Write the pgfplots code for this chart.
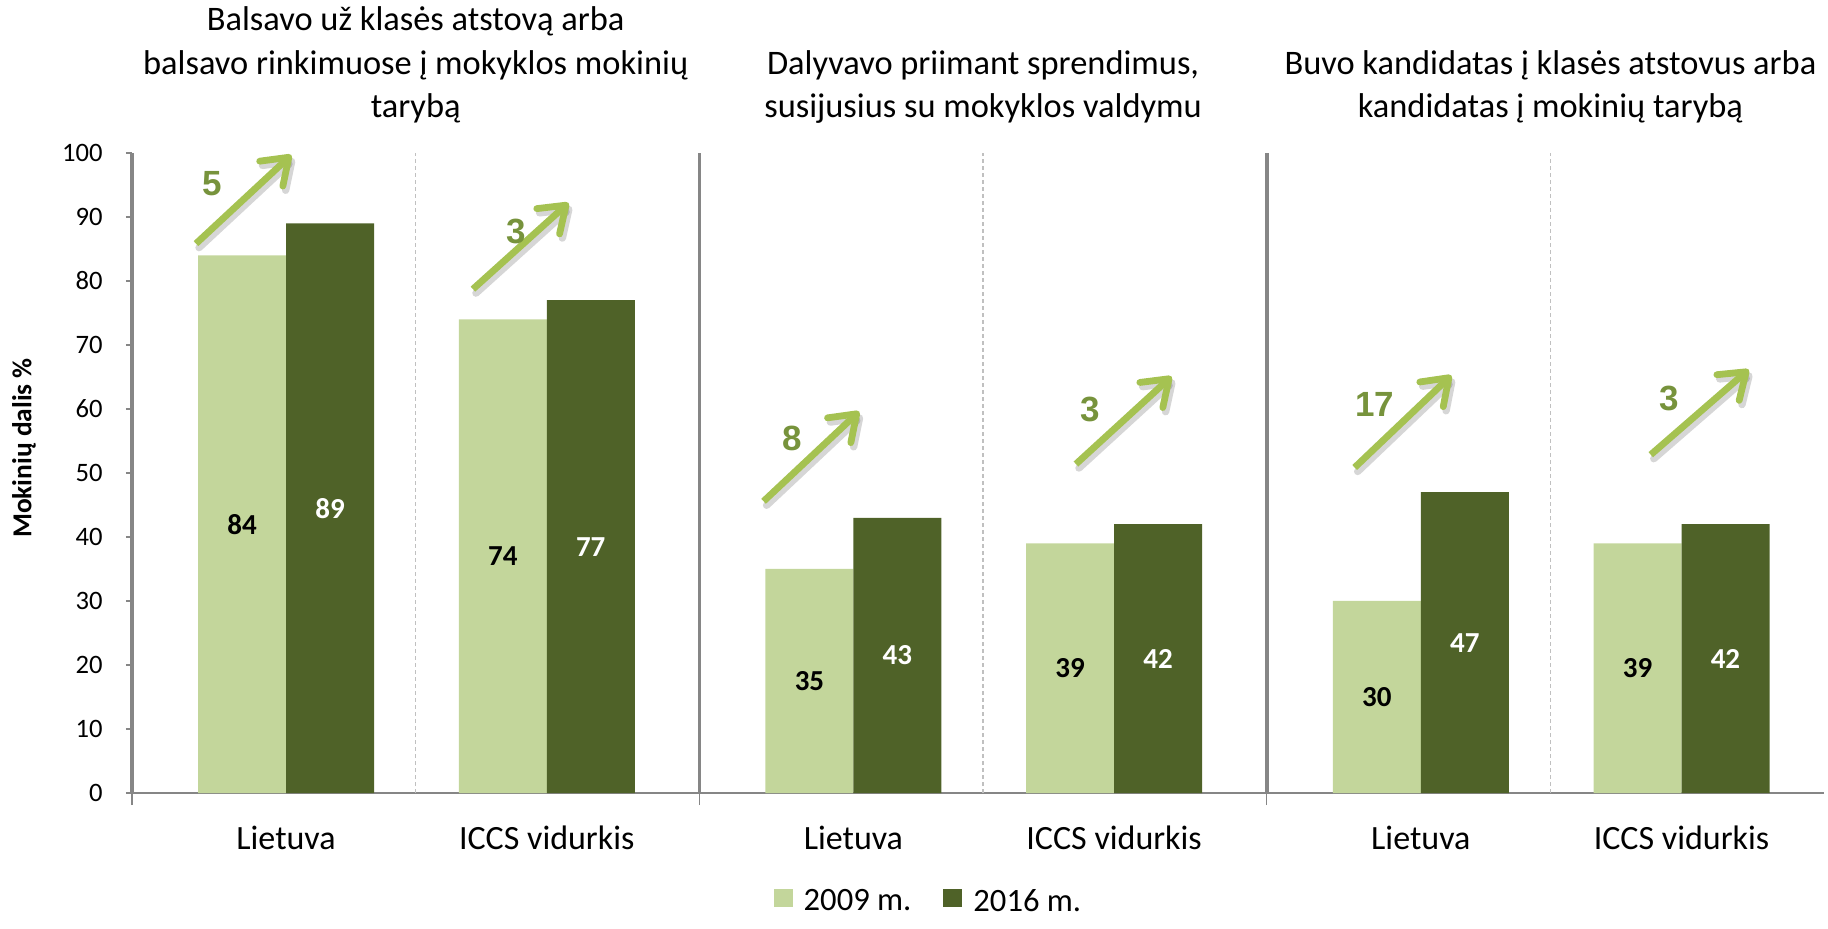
\documentclass[border=0pt]{standalone}
\usepackage{fontspec}
\setmainfont{Carlito}
\newfontfamily\arialfont{Liberation Sans}
\usepackage{pgfplots}
\usepackage{pgfplotstable}
\pgfplotsset{compat=1.18}
\usetikzlibrary{arrows.meta}

\definecolor{light}{HTML}{C3D69B}
\definecolor{dark}{HTML}{4F6228}
\definecolor{arrowgreen}{HTML}{A5C251}
\definecolor{numgreen}{HTML}{77933C}
\definecolor{axisgray}{HTML}{868686}
\definecolor{dashgray}{HTML}{C0C0C0}

\tikzset{
  shadowarrow/.style={black, opacity=0.16, line width=3.7pt, line cap=round, xshift=1.5pt, yshift=-2pt, -{Straight Barb[length=12pt, width=17pt, round]}},
  greenarrow/.style={arrowgreen, line width=3.4pt, -{Straight Barb[length=12pt, width=17pt, round]}},
  chg/.style={font=\arialfont\bfseries\fontsize{17.5}{20}\selectfont, text=numgreen},
  ttl/.style={anchor=base, font=\fontsize{17.2}{21}\selectfont},
}

\pgfplotstableread{
x     a   b
0.543 84  89
1.462 74  77
2.543 35  43
3.462 39  42
4.543 30  47
5.462 39  42
}\data

\begin{document}
\begin{tikzpicture}
\begin{axis}[
  at={(66pt,67.5pt)}, anchor=south west,
  scale only axis, width=846.1pt, height=320pt,
  xmin=0, xmax=5.965, ymin=0, ymax=100,
  clip=false,
  axis x line*=bottom, axis y line*=left,
  x axis line style={draw=axisgray, line width=1pt},
  y axis line style={draw=axisgray, line width=1.8pt},
  /pgf/number format/assume math mode=true,
  ytick={0,10,...,100},
  ytick style={draw=axisgray, line width=0.6pt},
  tick align=outside,
  major tick length=3pt,
  yticklabel style={font=\fontsize{13.3}{16}\selectfont, anchor=east, inner sep=0pt, xshift=-11.5pt},
  xtick={0.543,1.462,2.543,3.462,4.543,5.462},
  xticklabels={Lietuva, ICCS vidurkis, Lietuva, ICCS vidurkis, Lietuva, ICCS vidurkis},
  xtick style={draw=none},
  xticklabel style={font=\fontsize{17}{20}\selectfont, anchor=base, yshift=-25pt},
  extra x ticks={0,2,4},
  extra x tick labels={},
  extra x tick style={xtick style={draw=axisgray, line width=0.6pt}, major tick length=6pt},
  legend style={at={(axis cs:2.811,-17.0)}, anchor=center, draw=none, fill=none,
    legend columns=2, font=\fontsize{16.3}{18}\selectfont,
    /tikz/every odd column/.append style={column sep=3.5pt},
    /tikz/every even column/.append style={column sep=14pt}},
]
% separators
\draw[dashgray, line width=0.6pt, dash pattern=on 2pt off 1.5pt] (axis cs:1,0) -- (axis cs:1,100);
\draw[dashgray, line width=0.6pt, dash pattern=on 2pt off 1.5pt] (axis cs:3,0) -- (axis cs:3,100);
\draw[dashgray, line width=0.6pt, dash pattern=on 2pt off 1.5pt] (axis cs:5,0) -- (axis cs:5,100);
\draw[axisgray, line width=1.8pt] (axis cs:2,0) -- (axis cs:2,100);
\draw[axisgray, line width=1.8pt] (axis cs:4,0) -- (axis cs:4,100);

\addplot[ybar, bar width=44pt, bar shift=-22pt, fill=light, draw=none,
  legend image code/.code={\fill[light] (0pt,-2.5pt) rectangle (9.5pt,6.5pt);}]
  table[x=x, y=a]{\data};
\addlegendentry{2009 m.}
\addplot[ybar, bar width=44pt, bar shift=22pt, fill=dark, draw=none,
  legend image code/.code={\fill[dark] (0pt,-2.5pt) rectangle (9.5pt,6.5pt);}]
  table[x=x, y=b]{\data};
\addlegendentry{2016 m.}

% data labels
\addplot[draw=none, mark=none, forget plot, nodes near coords, point meta=explicit symbolic,
  every node near coord/.append style={anchor=center, font=\bfseries\fontsize{14.5}{17}\selectfont, text=black}]
  table[x expr=\thisrow{x}-0.155, y expr=\thisrow{a}/2, meta=a]{\data};
\addplot[draw=none, mark=none, forget plot, nodes near coords, point meta=explicit symbolic,
  every node near coord/.append style={anchor=center, font=\bfseries\fontsize{14.5}{17}\selectfont, text=white}]
  table[x expr=\thisrow{x}+0.155, y expr=\thisrow{b}/2, meta=b]{\data};

% change arrows
\draw[shadowarrow] (axis cs:0.2256,85.84) -- (axis cs:0.5617,99.69);
\draw[greenarrow]  (axis cs:0.2256,85.84) -- (axis cs:0.5617,99.69);
\draw[shadowarrow] (axis cs:1.2018,78.73) -- (axis cs:1.5388,92.2);
\draw[greenarrow]  (axis cs:1.2018,78.73) -- (axis cs:1.5388,92.2);
\draw[shadowarrow] (axis cs:2.2263,45.58) -- (axis cs:2.5633,59.61);
\draw[greenarrow]  (axis cs:2.2263,45.58) -- (axis cs:2.5633,59.61);
\draw[shadowarrow] (axis cs:3.3274,51.4) -- (axis cs:3.6644,65.08);
\draw[greenarrow]  (axis cs:3.3274,51.4) -- (axis cs:3.6644,65.08);
\draw[shadowarrow] (axis cs:4.3099,50.86) -- (axis cs:4.6508,65.25);
\draw[greenarrow]  (axis cs:4.3099,50.86) -- (axis cs:4.6508,65.25);
\draw[shadowarrow] (axis cs:5.3536,52.86) -- (axis cs:5.6989,66.16);
\draw[greenarrow]  (axis cs:5.3536,52.86) -- (axis cs:5.6989,66.16);
\node[chg] at (axis cs:0.282,95.2) {5};
\node[chg] at (axis cs:1.3535,87.8) {3};
\node[chg] at (axis cs:2.329,55.4) {8};
\node[chg] at (axis cs:3.377,59.9) {3};
\node[chg] at (axis cs:4.380,60.7) {17};
\node[chg] at (axis cs:5.419,61.6) {3};

% titles
\node[ttl] at (axis cs:1,119.1) {Balsavo už klasės atstovą arba};
\node[ttl] at (axis cs:1,112.3) {balsavo rinkimuose į mokyklos mokinių};
\node[ttl] at (axis cs:1,105.5) {tarybą};
\node[ttl] at (axis cs:3,112.3) {Dalyvavo priimant sprendimus,};
\node[ttl] at (axis cs:3,105.5) {susijusius su mokyklos valdymu};
\node[ttl] at (axis cs:5,112.3) {Buvo kandidatas į klasės atstovus arba};
\node[ttl] at (axis cs:5,105.5) {kandidatas į mokinių tarybą};

% y label
\node[rotate=90, font=\bfseries\fontsize{13.7}{16}\selectfont] at (axis cs:-0.381,53.9) {Mokinių dalis \%};
\end{axis}
\pgfresetboundingbox
\useasboundingbox (0,0) rectangle (914pt,464pt);
\end{tikzpicture}
\end{document}
